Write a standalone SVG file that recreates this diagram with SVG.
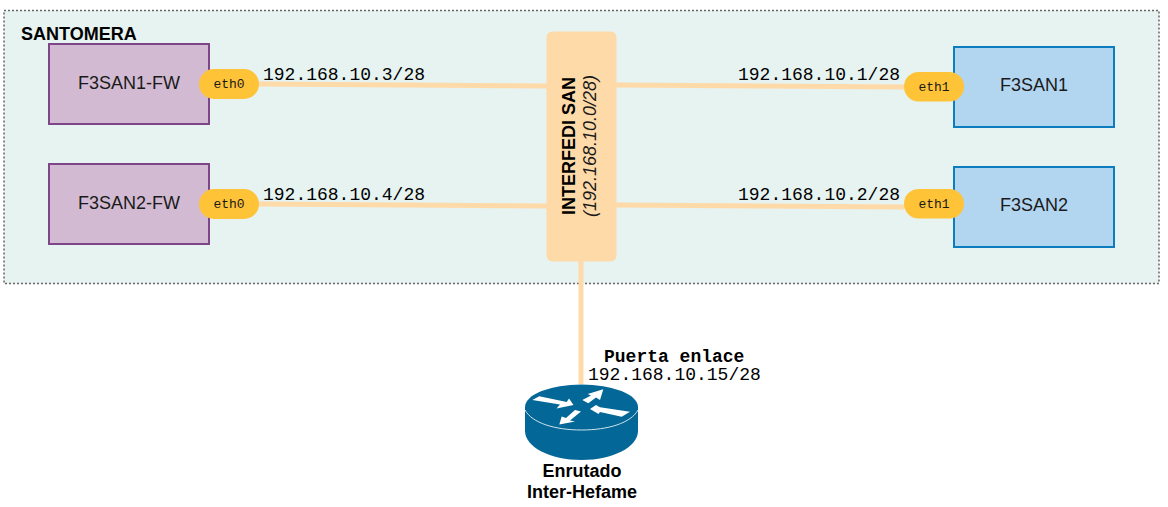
<svg xmlns="http://www.w3.org/2000/svg" width="1168" height="507" viewBox="0 0 1168 507">
<style>
.sans{font-family:"Liberation Sans",Arial,sans-serif}
.mono{font-family:"Liberation Mono","Courier New",monospace}
.node{font-size:18px;fill:#1a1a1a;text-anchor:middle}
.ip{font-size:18px;fill:#000}
.eth{font-size:13px;fill:#1a1a1a;text-anchor:middle}
.pill{fill:#ffc337}
.fw{fill:#d2bbd2;stroke:#7e4589;stroke-width:2}
.srv{fill:#b2d5f0;stroke:#0e7dc0;stroke-width:2}
.link{fill:none;stroke:#ffdaa9;stroke-width:5}
.bold{font-weight:bold;fill:#000}
</style>
<rect id="zone" x="4" y="10.500" width="1155" height="273" fill="#e6f3f0" stroke="#666" stroke-width="1.500" stroke-dasharray="2 2"/>
<text class="sans bold" x="21" y="40" font-size="18">SANTOMERA</text>
<g id="connectors">
<path class="link" d="M259 84L547 86"/>
<path class="link" d="M259 204L547 206"/>
<path class="link" d="M616 85L904 87"/>
<path class="link" d="M616 205L904 207"/>
<path class="link" d="M581 261V384"/>
</g>
<g id="f3san1fw"><rect class="fw" x="49" y="44" width="160" height="80"/><text class="sans node" x="129" y="88.500">F3SAN1-FW</text></g>
<g id="f3san2fw"><rect class="fw" x="49" y="164" width="160" height="80"/><text class="sans node" x="129" y="208.500">F3SAN2-FW</text></g>
<g id="f3san1"><rect class="srv" x="954" y="47" width="160" height="80"/><text class="sans node" x="1034" y="91">F3SAN1</text></g>
<g id="f3san2"><rect class="srv" x="954" y="167" width="160" height="80"/><text class="sans node" x="1034" y="211">F3SAN2</text></g>
<g id="eth0a"><rect class="pill" x="199" y="69" width="60" height="30" rx="15"/><text class="mono eth" x="229" y="88">eth0</text></g>
<g id="eth0b"><rect class="pill" x="199" y="189" width="60" height="30" rx="15"/><text class="mono eth" x="229" y="208">eth0</text></g>
<g id="eth1a"><rect class="pill" x="904" y="72" width="60" height="29.500" rx="14.750"/><text class="mono eth" x="934" y="90.500">eth1</text></g>
<g id="eth1b"><rect class="pill" x="904" y="189" width="60" height="29.500" rx="14.750"/><text class="mono eth" x="934" y="208">eth1</text></g>
<text class="mono ip" x="263" y="80">192.168.10.3/28</text>
<text class="mono ip" x="263" y="200">192.168.10.4/28</text>
<text class="mono ip" x="738" y="80">192.168.10.1/28</text>
<text class="mono ip" x="738" y="200">192.168.10.2/28</text>
<g id="interfedi">
<rect x="546.500" y="31.500" width="70" height="230" rx="6" fill="#ffdaa9"/>
<text class="sans bold" transform="translate(575 146) rotate(-90)" text-anchor="middle" font-size="18">INTERFEDI SAN</text>
<text class="sans" transform="translate(596 146) rotate(-90)" text-anchor="middle" font-size="18" font-style="italic" fill="#1a1a1a">(192.168.10.0/28)</text>
</g>
<g id="router">
<path d="M525 407V431C525 447 550 460 581.500 460C613 460 638 447 638 431V407Z" fill="#036897"/>
<ellipse cx="581.500" cy="407" rx="56.500" ry="22.500" fill="#036897"/>
<path d="M525 410C532 423 555 430 581.500 430C608 430 631 423 638 410" fill="none" stroke="#cfe3ec" stroke-width="1"/>
<path d="M532.300 400L539.300 396.300L566.700 402L569 398.500L573.500 405L556.500 408.500L560 404.500Z" fill="#fff"/>
<path d="M582.300 400L591 395.500L587.700 394L603.300 389.300L600 400L596 397.500L588.300 403.300Z" fill="#fff"/>
<path d="M630 411.700L621.700 416.700L600 412L598.500 414L590 409L596 405L600 407.300Z" fill="#fff"/>
<path d="M575 410L581 411.500L570 420.500L575 421.500L559.300 424.500L561.700 416.500L566 418Z" fill="#fff"/>
<text class="sans bold" text-anchor="middle" font-size="18" x="582" y="476.500">Enrutado</text>
<text class="sans bold" text-anchor="middle" font-size="18" x="582" y="497.500">Inter-Hefame</text>
</g>
<text class="mono ip"><tspan class="bold" x="604" y="362">Puerta enlace</tspan><tspan x="588" y="380">192.168.10.15/28</tspan></text>
</svg>
